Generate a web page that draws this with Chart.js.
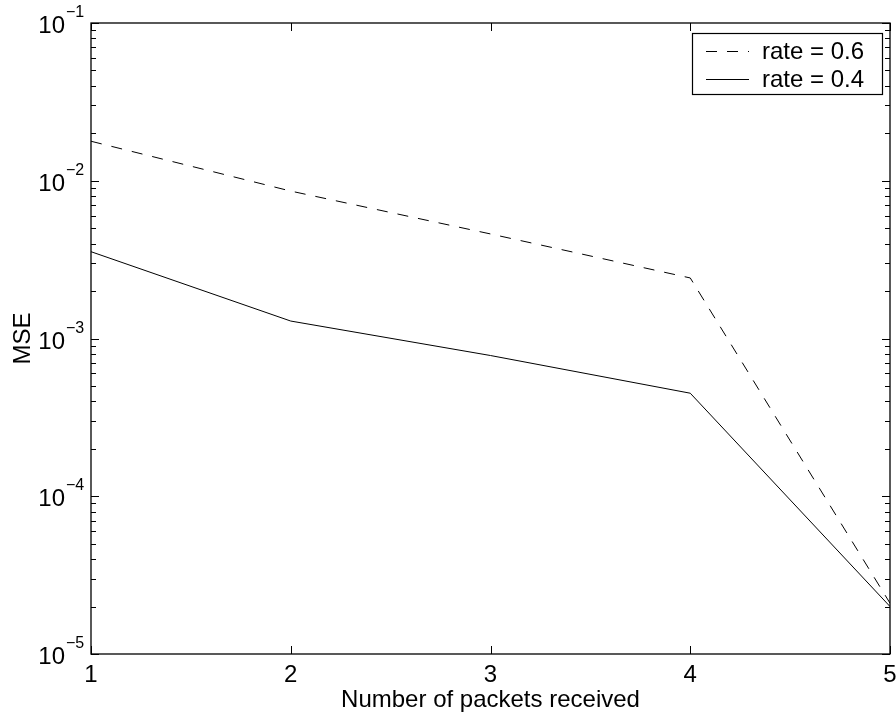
<!DOCTYPE html>
<html>
<head>
<meta charset="utf-8">
<script src="https://cdn.jsdelivr.net/npm/chart.js@4.4.1/dist/chart.umd.min.js"></script>
<style>
  html, body { margin: 0; padding: 0; background: #ffffff; }
  #wrap { width: 896px; height: 717px; }
</style>
</head>
<body>
<div id="wrap"><canvas id="c" width="896" height="717"></canvas></div>
<script>
// Packets received and mean squared error for the two coding rates
const packets = [1, 2, 3, 4, 5];
const mseRate06 = [0.0178, 0.0086, 0.0046, 0.00242, 0.000021];
const mseRate04 = [0.00355, 0.00129, 0.00078, 0.00045, 0.000020];
const seriesLabels = ['rate = 0.6', 'rate = 0.4'];
const xTicks = [1, 2, 3, 4, 5];
const yTickExponents = [-5, -4, -3, -2, -1];
const xTitle = 'Number of packets received';
const yTitle = 'MSE';

const FONT = '"Liberation Sans", Arial, Helvetica, sans-serif';
const FS = 24;

function toPoints(xs, ys) {
  return xs.map((x, i) => ({ x: x, y: ys[i] }));
}

// Box, inward ticks on all sides, tick labels, axis titles and legend
const framePlugin = {
  id: 'frame',
  afterDraw(chart) {
    const ctx = chart.ctx;
    const a = chart.chartArea;
    const xs = chart.scales.x, ys = chart.scales.y;
    ctx.save();
    ctx.strokeStyle = '#000';
    ctx.fillStyle = '#000';
    ctx.lineWidth = 1.3;
    ctx.strokeRect(a.left, a.top, a.right - a.left, a.bottom - a.top);

    ctx.lineWidth = 1;
    ctx.beginPath();
    // x ticks (top and bottom)
    xTicks.forEach(v => {
      const px = Math.round(xs.getPixelForValue(v)) + 0.5;
      ctx.moveTo(px, a.bottom); ctx.lineTo(px, a.bottom - 8);
      ctx.moveTo(px, a.top); ctx.lineTo(px, a.top + 8);
    });
    // y ticks, major and minor (left and right)
    yTickExponents.forEach(e => {
      for (let m = 1; m <= 9; m++) {
        const v = m * Math.pow(10, e);
        if (v > ys.max * 1.0001) continue;
        const py = Math.round(ys.getPixelForValue(v)) + 0.5;
        const len = m === 1 ? 8 : 5;
        ctx.moveTo(a.left, py); ctx.lineTo(a.left + len, py);
        ctx.moveTo(a.right, py); ctx.lineTo(a.right - len, py);
      }
    });
    ctx.stroke();

    // x tick labels
    ctx.font = FS + 'px ' + FONT;
    ctx.textAlign = 'center';
    ctx.textBaseline = 'alphabetic';
    xTicks.forEach(v => {
      ctx.fillText(String(v), xs.getPixelForValue(v), a.bottom + 28);
    });

    // y tick labels: 10 with a raised exponent
    yTickExponents.forEach(e => {
      const py = ys.getPixelForValue(Math.pow(10, e));
      ctx.font = FS + 'px ' + FONT;
      ctx.textAlign = 'right';
      ctx.textBaseline = 'alphabetic';
      ctx.fillText('10', a.left - 26, py + 10);
      ctx.font = '16px ' + FONT;
      ctx.textAlign = 'left';
      ctx.fillText('\u2212' + Math.abs(e), a.left - 25, py - 6);
    });

    // axis titles
    ctx.font = FS + 'px ' + FONT;
    ctx.textAlign = 'center';
    ctx.textBaseline = 'alphabetic';
    ctx.fillText(xTitle, (a.left + a.right) / 2, a.bottom + 53);
    ctx.save();
    ctx.translate(30, (a.top + a.bottom) / 2);
    ctx.rotate(-Math.PI / 2);
    ctx.fillText(yTitle, 0, 0);
    ctx.restore();

    // legend
    const bw = 190, bh = 61;
    const bx = a.right - 8 - bw, by = a.top + 10;
    ctx.fillStyle = '#fff';
    ctx.fillRect(bx, by, bw, bh);
    ctx.lineWidth = 1.2;
    ctx.strokeStyle = '#000';
    ctx.strokeRect(bx + 0.5, by + 0.5, bw, bh);
    ctx.fillStyle = '#000';
    chart.data.datasets.forEach((ds, i) => {
      const ry = Math.round(by + 18 + i * 28) + 0.5;
      ctx.beginPath();
      ctx.lineWidth = 1;
      ctx.setLineDash(ds.borderDash || []);
      ctx.moveTo(bx + 14, ry); ctx.lineTo(bx + 57, ry);
      ctx.stroke();
      ctx.setLineDash([]);
      ctx.font = FS + 'px ' + FONT;
      ctx.textAlign = 'left';
      ctx.textBaseline = 'middle';
      ctx.fillText(ds.label, bx + 70, ry + 1);
    });
    ctx.restore();
  }
};

new Chart(document.getElementById('c'), {
  type: 'line',
  data: {
    datasets: [
      {
        label: seriesLabels[0],
        data: toPoints(packets, mseRate06),
        borderColor: '#000',
        borderWidth: 1,
        borderDash: [11, 10],
        pointRadius: 0,
        tension: 0,
        fill: false
      },
      {
        label: seriesLabels[1],
        data: toPoints(packets, mseRate04),
        borderColor: '#000',
        borderWidth: 1,
        pointRadius: 0,
        tension: 0,
        fill: false
      }
    ]
  },
  options: {
    responsive: false,
    animation: false,
    devicePixelRatio: 1,
    layout: { padding: { top: 23, right: 6, left: 0, bottom: 0 } },
    plugins: {
      legend: { display: false },
      tooltip: { enabled: false }
    },
    scales: {
      x: {
        type: 'linear',
        min: 1,
        max: 5,
        grid: { display: false },
        border: { display: false },
        ticks: { display: false },
        afterFit(scale) { scale.height = 63; }
      },
      y: {
        type: 'logarithmic',
        min: 1e-5,
        max: 1e-1,
        grid: { display: false },
        border: { display: false },
        ticks: { display: false },
        afterFit(scale) { scale.width = 91; }
      }
    }
  },
  plugins: [framePlugin]
});
</script>
</body>
</html>
